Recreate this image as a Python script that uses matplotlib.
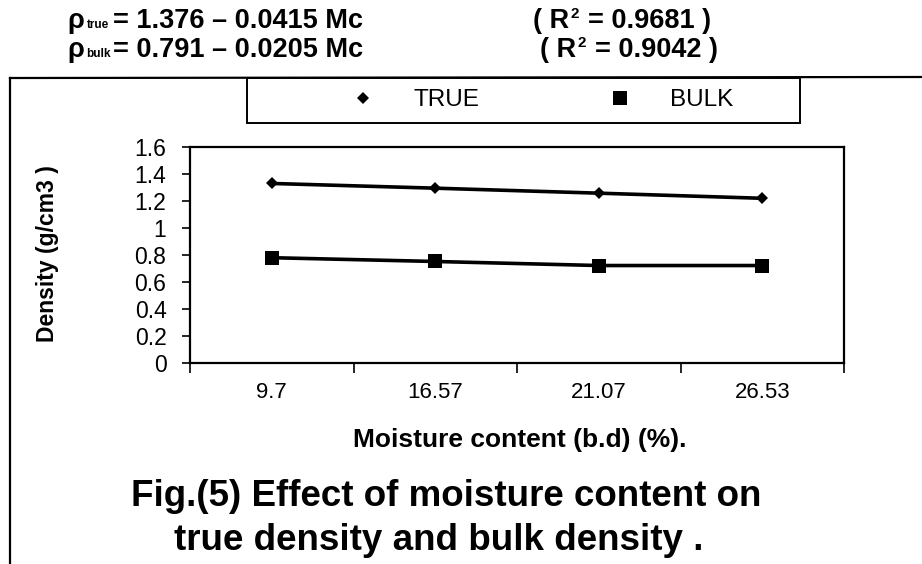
import matplotlib
matplotlib.use("Agg")
import matplotlib.pyplot as plt
from matplotlib.lines import Line2D
from matplotlib.patches import Rectangle

categories = ["9.7", "16.57", "21.07", "26.53"]
true_density = [1.33, 1.295, 1.258, 1.22]
bulk_density = [0.78, 0.752, 0.722, 0.722]
yticks = [0, 0.2, 0.4, 0.6, 0.8, 1, 1.2, 1.4, 1.6]
ytick_labels = ["0", "0.2", "0.4", "0.6", "0.8", "1", "1.2", "1.4", "1.6"]

W, H = 922, 564
fig = plt.figure(figsize=(W / 100, H / 100), dpi=100)
fig.patch.set_facecolor("white")

def fx(px):
    return px / W

def fy(py):
    return 1 - py / H

REG = ["Liberation Sans", "DejaVu Sans"]

L, R, T, B = 190, 844, 147, 363
ax = fig.add_axes([fx(L), fy(B), (R - L) / W, (B - T) / H])
x = list(range(len(categories)))
ax.plot(x, true_density, color="black", lw=2.6, marker="D", markersize=6.5,
        markeredgewidth=0, label="TRUE")
ax.plot(x, bulk_density, color="black", lw=2.6, marker="s", markersize=10.5,
        markeredgewidth=0, label="BULK")
ax.set_xlim(-0.5, len(categories) - 0.5)
ax.set_ylim(0, 1.6)
ax.set_yticks(yticks)
ax.set_yticklabels(ytick_labels, fontfamily=REG, fontsize=16.5)
ax.set_xticks([i - 0.5 for i in range(len(categories) + 1)])
ax.set_xticklabels([])
ax.set_xticks(x, minor=True)
ax.set_xticklabels(categories, minor=True, fontfamily=REG, fontsize=16)
ax.tick_params(axis="x", which="minor", length=0, pad=14)
ax.tick_params(axis="x", which="major", length=7, width=1.2, direction="out")
ax.tick_params(axis="y", length=6, width=1.2, direction="out", pad=11)
for s in ax.spines.values():
    s.set_linewidth(1.6)
    s.set_color("black")
ax.set_xlabel("Moisture content (b.d) (%).", fontfamily=REG, fontweight="bold",
              fontsize=19)
ax.xaxis.set_label_coords((520 - L) / (R - L), -(440 - B) / (B - T))
ax.xaxis.label.set_va("center")
ax.set_ylabel("Density (g/cm3 )", fontfamily=REG, fontweight="bold", fontsize=16.5)
ax.yaxis.set_label_coords((47 - L) / (R - L), (B - 254) / (B - T))
ax.yaxis.label.set_va("center")

# outer frame
fig.add_artist(Line2D([fx(10), fx(922)], [fy(78), fy(77)], color="black", lw=1.6))
fig.add_artist(Line2D([fx(10), fx(10)], [fy(78), fy(564)], color="black", lw=1.6))

# legend box
box = Rectangle((fx(247), fy(123)), fx(800) - fx(247), (123 - 78) / H,
                facecolor="none", edgecolor="black", lw=1.4, zorder=-1)
fig.add_artist(box)
leg = ax.legend(loc="center", bbox_to_anchor=(fx(541), fy(100)),
                bbox_transform=fig.transFigure, ncol=2, frameon=False,
                prop={"family": REG, "size": 17.5}, handlelength=1.2,
                handletextpad=1.45, columnspacing=5.2, numpoints=1,
                borderpad=0)
for h in leg.legend_handles:
    h.set_linestyle("none")

# equations
EQ = 19.5
SUB = 8.5
eq_y1, eq_y2 = 21, 50
fig.text(fx(67), fy(eq_y1), "ρ", fontfamily=REG, fontweight="bold", fontsize=EQ,
         va="center", ha="left")
fig.text(fx(87), fy(eq_y1 + 4), "true", fontfamily=REG, fontweight="bold",
         fontsize=SUB, va="center", ha="left")
fig.text(fx(113), fy(eq_y1), "= 1.376 – 0.0415 Mc", fontfamily=REG,
         fontweight="bold", fontsize=EQ, va="center", ha="left")
fig.text(fx(67), fy(eq_y2), "ρ", fontfamily=REG, fontweight="bold", fontsize=EQ,
         va="center", ha="left")
fig.text(fx(86), fy(eq_y2 + 4), "bulk", fontfamily=REG, fontweight="bold",
         fontsize=SUB, va="center", ha="left")
fig.text(fx(113), fy(eq_y2), "= 0.791 – 0.0205 Mc", fontfamily=REG,
         fontweight="bold", fontsize=EQ, va="center", ha="left")

for (xs, yy, val) in [(533, eq_y1, "0.9681"), (540, eq_y2, "0.9042")]:
    fig.text(fx(xs), fy(yy), "( R", fontfamily=REG, fontweight="bold",
             fontsize=EQ, va="center", ha="left")
    fig.text(fx(xs + 37), fy(yy - 7), "2", fontfamily=REG, fontweight="bold",
             fontsize=11, va="center", ha="left")
    fig.text(fx(xs + 55), fy(yy), "= " + val + " )", fontfamily=REG,
             fontweight="bold", fontsize=EQ, va="center", ha="left")

# caption
fig.text(fx(446), fy(496), "Fig.(5) Effect of moisture content on", fontfamily=REG,
         fontweight="bold", fontsize=26.5, ha="center", va="center")
fig.text(fx(439), fy(540), "true density and bulk density .", fontfamily=REG,
         fontweight="bold", fontsize=26.5, ha="center", va="center")

fig.savefig("out.png", dpi=100, facecolor="white")
